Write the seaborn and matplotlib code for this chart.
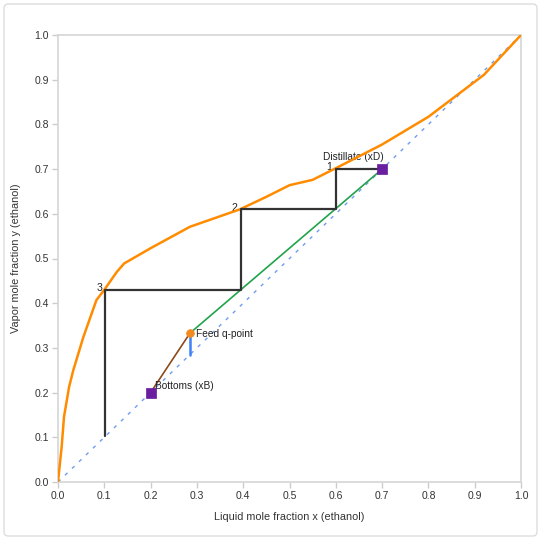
import numpy as np
import pandas as pd
import seaborn as sns
import matplotlib.pyplot as plt
from matplotlib.patches import FancyBboxPatch

# equilibrium curve (ethanol-water)
eq_x = [0.0, 0.008, 0.013, 0.024, 0.033, 0.055, 0.083, 0.10, 0.127, 0.143, 0.20,
        0.285, 0.393, 0.45, 0.50, 0.55, 0.60, 0.70, 0.80, 0.92, 1.0]
eq_y = [0.0, 0.08, 0.146, 0.213, 0.25, 0.325, 0.407, 0.43, 0.47, 0.489, 0.523,
        0.571, 0.61, 0.638, 0.664, 0.676, 0.702, 0.755, 0.817, 0.911, 1.0]

xD = 0.70
xB = 0.20
feed_x = 0.285
feed_y = 0.333

# stage corners (x on the curve, y of the step)
stage_x = [0.60, 0.395, 0.102]
stage_y = [0.70, 0.61, 0.43]
stage_bottom = [0.61, 0.43, 0.102]
stage_labels = ["1", "2", "3"]

sns.set_theme(style="white")
plt.rcParams['font.family'] = ['Liberation Sans', 'DejaVu Sans']

fig = plt.figure(figsize=(5.42, 5.40), dpi=100)
ax = fig.add_axes([58/542, 58/540, 463/542, 447/540])

card = FancyBboxPatch((4/542, 4/540), 533/542, 532/540,
                      boxstyle="round,pad=0,rounding_size=0.008",
                      transform=fig.transFigure, facecolor="none",
                      edgecolor="#dddddd", linewidth=1)
fig.patches.append(card)

# diagonal y = x
diag = pd.DataFrame({"x": [0, 1], "y": [0, 1]})
sns.lineplot(data=diag, x="x", y="y", ax=ax, color="#6f9cf0", linewidth=1,
             linestyle=(0, (2.5, 4.5)), zorder=2)

# equilibrium curve
eq = pd.DataFrame({"x": eq_x, "y": eq_y})
sns.lineplot(data=eq, x="x", y="y", ax=ax, color="#ff8c00", linewidth=1.8,
             sort=False, estimator=None, zorder=4)

# rectifying and stripping operating lines
rect = pd.DataFrame({"x": [xD, feed_x], "y": [xD, feed_y]})
sns.lineplot(data=rect, x="x", y="y", ax=ax, color="#20a34a", linewidth=1.2, zorder=3)
strip = pd.DataFrame({"x": [xB, feed_x], "y": [xB, feed_y]})
sns.lineplot(data=strip, x="x", y="y", ax=ax, color="#8b4a1c", linewidth=1.2, zorder=3)

# q-line (saturated liquid feed)
qline = pd.DataFrame({"x": [feed_x, feed_x], "y": [feed_x, feed_y]})
sns.lineplot(data=qline, x="x", y="y", ax=ax, color="#3b82f6", linewidth=1.8,
             sort=False, estimator=None, zorder=3)

# stages
sx, sy = [xD], [xD]
for xs, ys, yb in zip(stage_x, stage_y, stage_bottom):
    sx += [xs, xs]
    sy += [ys, yb]
steps = pd.DataFrame({"x": sx, "y": sy})
sns.lineplot(data=steps, x="x", y="y", ax=ax, color="#333333", linewidth=1.6,
             sort=False, estimator=None, zorder=5)
for lab, xs, ys in zip(stage_labels, stage_x, stage_y):
    ax.text(xs - 0.007, ys + 0.004, lab, ha="right", va="center", fontsize=7.6, color="#222222")

# markers
pts = pd.DataFrame({"x": [xD, xB], "y": [xD, xB]})
sns.scatterplot(data=pts, x="x", y="y", ax=ax, marker="s", s=42, color="#6a1fa0",
                edgecolor="#6a1fa0", zorder=6)
sns.scatterplot(x=[feed_x], y=[feed_y], ax=ax, marker="o", s=32, color="#f28a1e",
                edgecolor="#f28a1e", zorder=6)
ax.text(xD + 0.003, xD + 0.016, "Distillate (xD)", ha="right", va="bottom", fontsize=7.3, color="#222222")
ax.text(xB + 0.01, xB + 0.003, "Bottoms (xB)", ha="left", va="bottom", fontsize=7.3, color="#222222")
ax.text(feed_x + 0.013, feed_y - 0.002, "Feed q-point", ha="left", va="center", fontsize=7.3, color="#222222")

ax.set_xlim(0, 1)
ax.set_ylim(0, 1)
ticks = np.round(np.arange(0, 1.01, 0.1), 1)
ax.set_xticks(ticks)
ax.set_yticks(ticks)
ax.set_xticklabels([f"{t:.1f}" for t in ticks])
ax.set_yticklabels([f"{t:.1f}" for t in ticks])
ax.tick_params(axis="both", length=4, width=1, color="#cccccc", labelsize=7.5,
               labelcolor="#333333", pad=2.5, bottom=True, left=True)
for sp in ax.spines.values():
    sp.set_color("#d6d6d6")
    sp.set_linewidth(1.2)
ax.set_xlabel("Liquid mole fraction x (ethanol)", fontsize=7.8, color="#333333", labelpad=8)
ax.set_ylabel("Vapor mole fraction y (ethanol)", fontsize=7.8, color="#333333", labelpad=10)

plt.savefig("out.png", dpi=100)
